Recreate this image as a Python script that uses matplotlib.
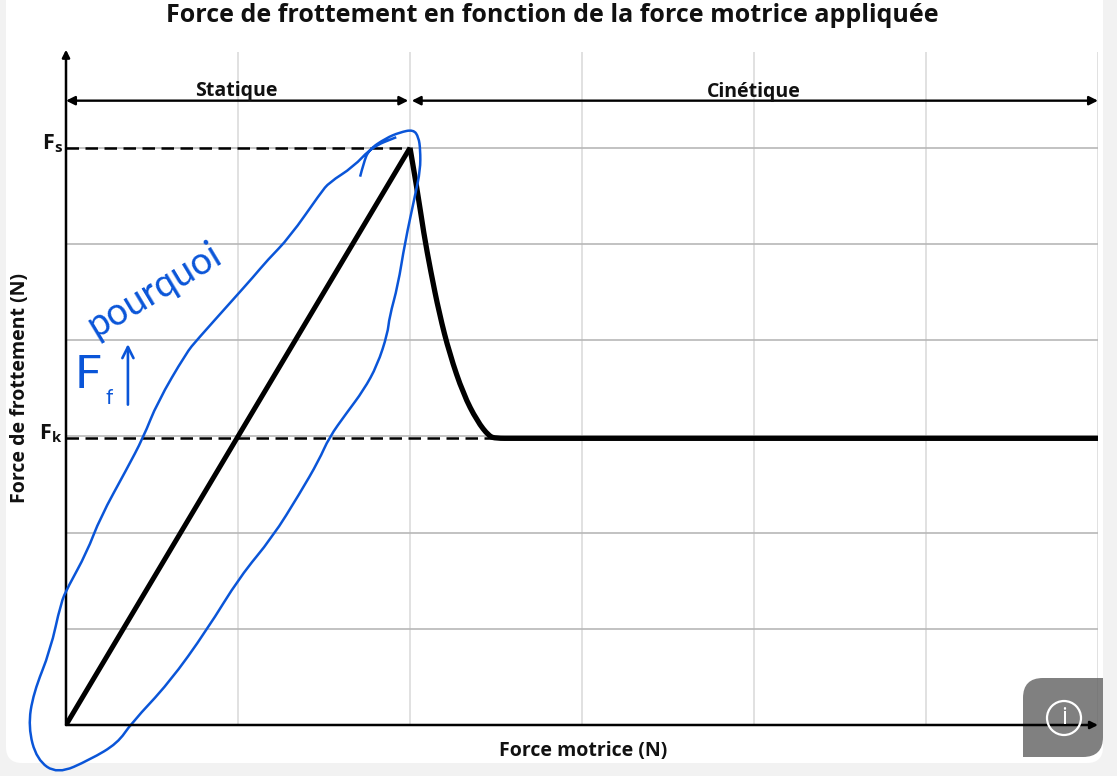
import matplotlib
matplotlib.use('Agg')
from matplotlib import pyplot as plt
from matplotlib.patches import FancyBboxPatch, PathPatch, Circle
from matplotlib.path import Path
from matplotlib.transforms import Affine2D

plt.rcParams['font.family'] = ['Open Sans', 'DejaVu Sans']
plt.rcParams['mathtext.fontset'] = 'custom'
plt.rcParams['mathtext.bf'] = 'Open Sans:bold'

W, H = 1117, 776

# friction curve, in grid units
static_x = [0, 2]
static_y = [0, 6]
kinetic_x = [2, 2.04, 2.08, 2.12, 2.17, 2.23, 2.31, 2.39, 2.46, 2.5, 2.6, 6]
kinetic_y = [6, 5.59, 5.11, 4.72, 4.28, 3.86, 3.44, 3.16, 3.0, 2.98, 2.98, 2.98]
Fs = 6
Fk = 2.98
x_grid = [1, 2, 3, 4, 5, 6]
y_grid = [1, 2, 3, 4, 5, 6]
zone_y = 6.49
zone_limit = 2.0

# the hand drawn loop
loop_x = [1.71, 1.73, 1.76, 1.86, 1.94, 2.02, 2.05, 2.06, 2.06, 2.03, 1.97, 1.93, 1.88, 1.87,
          1.81, 1.73, 1.63, 1.53, 1.47, 1.36, 1.20, 1.01, 0.82, 0.60, 0.38, 0.30, 0.14, -0.05,
          -0.17, -0.22, -0.19, -0.09, -0.03, 0.01, 0.12, 0.20, 0.35, 0.45, 0.53, 0.70, 0.76,
          0.97, 1.09, 1.17, 1.30, 1.48, 1.53, 1.67, 1.78, 1.92]
loop_y = [5.70, 5.84, 5.98, 6.10, 6.16, 6.19, 6.11, 5.98, 5.77, 5.51, 5.01, 4.57, 4.24, 4.07,
          3.74, 3.48, 3.24, 2.99, 2.75, 2.41, 1.95, 1.54, 0.99, 0.44, 0.02, -0.19, -0.36, -0.51,
          -0.36, -0.02, 0.33, 0.78, 1.27, 1.43, 1.79, 2.16, 2.65, 2.99, 3.35, 3.87, 4.00,
          4.42, 4.66, 4.83, 5.07, 5.53, 5.64, 5.80, 6.01, 6.11]

blue = '#0a55d8'


# rounds the corners between read points with quadratic curves
def soft_path(xs, ys):
    pts = list(zip(xs, ys))
    verts = [pts[0]]
    codes = [Path.MOVETO]
    for i in range(1, len(pts) - 1):
        mid = ((pts[i][0] + pts[i + 1][0]) / 2, (pts[i][1] + pts[i + 1][1]) / 2)
        verts += [pts[i], mid]
        codes += [Path.CURVE3, Path.CURVE3]
    verts.append(pts[-1])
    codes.append(Path.LINETO)
    return Path(verts, codes)


fig = plt.figure(figsize=(W / 100, H / 100), dpi=100, facecolor='#f2f2f2')
px = Affine2D().scale(1 / W, -1 / H).translate(0, 1) + fig.transFigure

# white card behind the chart
fig.patches.append(FancyBboxPatch((6, -20), 1097, 783, boxstyle='round,pad=0,rounding_size=16',
                                  transform=px, fc='white', ec='none', zorder=-1))

ax = fig.add_axes([66 / W, 51 / H, 1032 / W, 7.02 * 96.2 / H])
ax.patch.set_visible(False)
ax.set_xlim(0, 6)
ax.set_ylim(0, 7.02)
for s in ax.spines.values():
    s.set_visible(False)
ax.tick_params(length=0, labelbottom=False, labelleft=False)

ax.vlines(x_grid, 0, 7, color='#dcdcdc', lw=1.2, zorder=1)
ax.hlines(y_grid, 0, 6, color='#b8b8b8', lw=1.2, zorder=1)

# axes with arrow heads
ax.annotate('', xy=(0, 7.02), xytext=(0, 0), annotation_clip=False,
            arrowprops=dict(arrowstyle='-|>', color='black', lw=1.8, shrinkA=0, shrinkB=0, mutation_scale=11))
ax.annotate('', xy=(6, 0), xytext=(0, 0), annotation_clip=False, zorder=8,
            arrowprops=dict(arrowstyle='-|>', color='black', lw=1.8, shrinkA=0, shrinkB=0, mutation_scale=11))

# zones
ax.annotate('', xy=(zone_limit - 0.01, zone_y), xytext=(0, zone_y),
            arrowprops=dict(arrowstyle='<|-|>', color='black', lw=1.7, shrinkA=0, shrinkB=0, mutation_scale=13))
ax.annotate('', xy=(6, zone_y), xytext=(zone_limit + 0.01, zone_y),
            arrowprops=dict(arrowstyle='<|-|>', color='black', lw=1.7, shrinkA=0, shrinkB=0, mutation_scale=13))
ax.text(0.99, 6.49, 'Statique', ha='center', va='bottom', fontsize=14, fontweight='bold', color='#111111')
ax.text(4.0, 6.48, 'Cinétique', ha='center', va='bottom', fontsize=14, fontweight='bold', color='#111111')

ax.plot([0, 2], [Fs, Fs], color='black', lw=1.8, ls=(0, (5, 2.6)), zorder=2)
ax.plot([0, 2.48], [Fk, Fk], color='black', lw=1.8, ls=(0, (5, 2.6)), zorder=2)

ax.plot(static_x, static_y, color='black', lw=3.6, solid_capstyle='butt', solid_joinstyle='miter', zorder=3)
ax.add_patch(PathPatch(soft_path(kinetic_x, kinetic_y), fc='none', ec='black', lw=3.8, capstyle='butt', zorder=3))

ax.text(-0.02, Fs - 0.08, r'$\mathbf{F_s}$', ha='right', va='bottom', fontsize=15.5, color='#111111')
ax.text(-0.02, Fk - 0.07, r'$\mathbf{F_k}$', ha='right', va='bottom', fontsize=15.5, color='#111111')

fig.text(552 / W, 1 - 15 / H, 'Force de frottement en fonction de la force motrice appliquée',
         ha='center', va='center', fontsize=18, fontweight='bold', color='#111111')
fig.text(583 / W, 1 - 751 / H, 'Force motrice (N)', ha='center', va='center',
         fontsize=14, fontweight='bold', color='#111111')
fig.text(20 / W, 1 - 388 / H, 'Force de frottement (N)', ha='center', va='center', rotation=90,
         fontsize=14, fontweight='bold', color='#111111')

# annotation in blue on top of the chart
ax.add_patch(PathPatch(soft_path(loop_x, loop_y), fc='none', ec=blue, lw=1.8, clip_on=False, zorder=5))
ax.text(0.51, 4.52, 'pourquoi', rotation=31, rotation_mode='anchor', ha='center', va='center',
        family=['Lato', 'DejaVu Sans'], fontsize=27, color=blue, zorder=5)
ax.text(0.13, 3.64, 'F', ha='center', va='center', family=['Lato', 'DejaVu Sans'],
        fontsize=34, color=blue, zorder=5)
ax.text(0.25, 3.4, 'f', ha='center', va='center', family=['Lato', 'DejaVu Sans'], fontsize=15,
        color=blue, zorder=5)
ax.annotate('', xy=(0.36, 3.96), xytext=(0.36, 3.33), zorder=5,
            arrowprops=dict(arrowstyle='->', color=blue, lw=1.9, shrinkA=0, shrinkB=0, mutation_scale=20))

# info badge, see-through, round on two corners only
r = 20
x0, x1, y0, y1 = 1023, 1103, 678, 757
verts = [(x0 + r, y0), (x1, y0), (x1, y1 - r), (x1, y1), (x1 - r, y1), (x0, y1), (x0, y0 + r), (x0, y0), (x0 + r, y0), (x0 + r, y0)]
codes = [Path.MOVETO, Path.LINETO, Path.LINETO, Path.CURVE3, Path.CURVE3, Path.LINETO, Path.LINETO, Path.CURVE3, Path.CURVE3, Path.CLOSEPOLY]
ax.add_patch(PathPatch(Path(verts, codes), transform=px, fc='#606060', ec='none', alpha=0.8, clip_on=False, zorder=6))
ax.add_patch(Circle((1064, 718), 17, transform=px, fc='none', ec='white', lw=1.6, clip_on=False, zorder=9))
ax.text(1064, 718, 'i', transform=px, ha='center', va='center', color='white', fontsize=17, zorder=9)

fig.savefig('out.png', dpi=100, facecolor=fig.get_facecolor())
